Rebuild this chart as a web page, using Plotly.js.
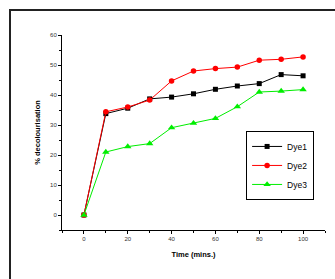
<!DOCTYPE html>
<html>
<head>
<meta charset="utf-8">
<script src="https://cdn.plot.ly/plotly-3.0.1.min.js"></script>
<style>
html,body{margin:0;padding:0;background:#fff;overflow:hidden;}
#frame{position:absolute;left:9px;top:9px;width:400px;height:400px;border-left:2px solid #222;border-top:2px solid #222;pointer-events:none;z-index:10;}
#chart{position:absolute;left:0;top:0;width:335px;height:279px;}
</style>
</head>
<body>
<div id="chart"></div>
<div id="frame"></div>
<script>
var time = [0, 10, 20, 30, 40, 50, 60, 70, 80, 90, 100];
var dye1 = [0, 33.8, 35.6, 38.7, 39.3, 40.4, 41.9, 43.0, 43.8, 46.8, 46.4];
var dye2 = [0, 34.4, 36.0, 38.3, 44.7, 48.0, 48.8, 49.3, 51.6, 51.9, 52.7];
var dye3 = [0, 21.0, 22.8, 23.8, 29.1, 30.6, 32.2, 36.1, 41.0, 41.3, 41.8];
var seriesNames = ["Dye1", "Dye2", "Dye3"];

var traces = [
  {x: time, y: dye1, name: seriesNames[0], mode: "lines+markers",
   line: {color: "#000000", width: 1}, marker: {symbol: "square", size: 5, color: "#000000"}},
  {x: time, y: dye2, name: seriesNames[1], mode: "lines+markers",
   line: {color: "#ff0000", width: 1}, marker: {symbol: "circle", size: 5.5, color: "#ff0000"}},
  {x: time, y: dye3, name: seriesNames[2], mode: "lines+markers",
   line: {color: "#00ee00", width: 1}, marker: {symbol: "triangle-up", size: 6.5, color: "#00ee00"}}
];

var layout = {
  width: 335, height: 279,
  margin: {l: 62, r: 10, t: 35, b: 49},
  paper_bgcolor: "#ffffff", plot_bgcolor: "#ffffff",
  font: {family: "Liberation Sans, Arial, sans-serif", color: "#000"},
  showlegend: true,
  legend: {x: 0.70, y: 0.508, xanchor: "left", yanchor: "top",
    bordercolor: "#000", borderwidth: 1, bgcolor: "#fff",
    font: {size: 8.5, color: "#000"}, itemwidth: 30, tracegroupgap: 0},
  xaxis: {
    range: [-10, 110], showgrid: false, zeroline: false,
    showline: true, linecolor: "#000", linewidth: 1,
    ticks: "outside", ticklen: 3, tickcolor: "#000", tickwidth: 1,
    tick0: 0, dtick: 20,
    minor: {dtick: 10, ticks: "outside", ticklen: 2, tickcolor: "#000"},
    tickfont: {size: 6, color: "#333"},
    title: {text: "<b>Time (mins.)</b>", font: {size: 7.5, color: "#000"}, standoff: 10}
  },
  yaxis: {
    range: [-5, 60], showgrid: false, zeroline: false,
    showline: true, linecolor: "#000", linewidth: 1,
    ticks: "outside", ticklen: 3, tickcolor: "#000", tickwidth: 1,
    tick0: 0, dtick: 10,
    minor: {dtick: 5, ticks: "outside", ticklen: 2, tickcolor: "#000"},
    tickfont: {size: 6, color: "#333"},
    title: {text: "<b>% decolourisation</b>", font: {size: 7.5, color: "#000"}, standoff: 8}
  }
};

Plotly.newPlot("chart", traces, layout, {displayModeBar: false, staticPlot: true});
</script>
</body>
</html>
